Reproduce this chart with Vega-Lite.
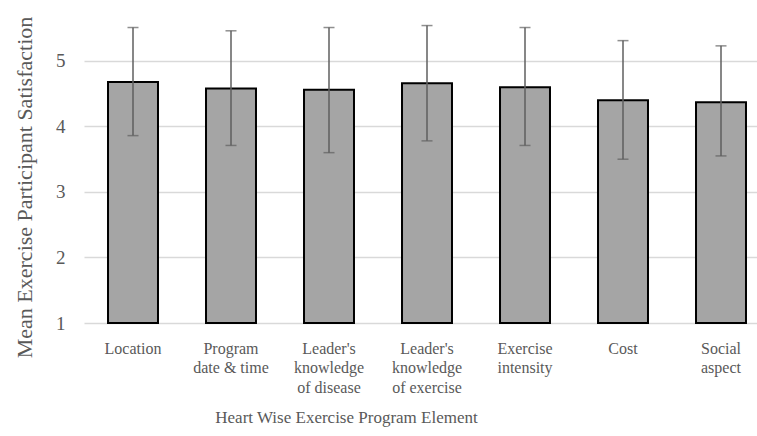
{
  "$schema": "https://vega.github.io/schema/vega-lite/v6.json",
  "autosize": "none",
  "width": 673,
  "height": 323,
  "padding": {"left": 84, "top": 0, "right": 0, "bottom": 113},
  "background": "white",
  "config": {
    "view": {"stroke": null},
    "font": "Liberation Serif",
    "axis": {"labelFont": "Liberation Serif", "titleFont": "Liberation Serif"}
  },
  "data": {
    "values": [
      {"element": "Location", "mean": 4.68, "lo": 3.86, "hi": 5.51},
      {"element": "Program|date & time", "mean": 4.58, "lo": 3.71, "hi": 5.46},
      {"element": "Leader's|knowledge|of disease", "mean": 4.56, "lo": 3.60, "hi": 5.51},
      {"element": "Leader's|knowledge|of exercise", "mean": 4.66, "lo": 3.78, "hi": 5.54},
      {"element": "Exercise|intensity", "mean": 4.60, "lo": 3.71, "hi": 5.51},
      {"element": "Cost", "mean": 4.40, "lo": 3.50, "hi": 5.31},
      {"element": "Social|aspect", "mean": 4.37, "lo": 3.55, "hi": 5.23}
    ]
  },
  "encoding": {
    "x": {
      "field": "element",
      "type": "nominal",
      "sort": null,
      "scale": {"range": [0, 686], "paddingInner": 0.49, "paddingOuter": 0.245},
      "axis": {
        "title": "Heart Wise Exercise  Program Element",
        "titleFontSize": 17,
        "titleFontWeight": "normal",
        "titleColor": "#595959",
        "titleX": 262,
        "titleY": 94,
        "titleBaseline": "middle",
        "labelExpr": "split(datum.label, '|')",
        "labelFontSize": 16,
        "labelColor": "#595959",
        "labelLineHeight": 19.5,
        "labelPadding": 17,
        "labelAngle": 0,
        "domain": false,
        "ticks": false,
        "grid": false
      }
    }
  },
  "layer": [
    {
      "mark": {"type": "bar", "fill": "#a5a5a5", "stroke": "#000000", "strokeWidth": 2},
      "encoding": {
        "y": {
          "field": "mean",
          "type": "quantitative",
          "scale": {"domain": [1, 5.93], "nice": false, "zero": false},
          "axis": {
            "title": "Mean Exercise  Participant Satisfaction",
            "titleFontSize": 22,
            "titleFontWeight": "normal",
            "titleColor": "#595959",
            "titleX": -53,
            "titleY": 187,
            "titleBaseline": "alphabetic",
            "titleAngle": -90,
            "values": [1, 2, 3, 4, 5],
            "format": "d",
            "labelFontSize": 19,
            "labelColor": "#595959",
            "labelPadding": 19,
            "domain": false,
            "ticks": false,
            "grid": true,
            "gridColor": "#d9d9d9",
            "gridWidth": 1.4
          }
        },
        "y2": {"datum": 1}
      }
    },
    {
      "mark": {"type": "rule", "color": "#5f5f5f", "strokeWidth": 1.5},
      "encoding": {
        "y": {"field": "lo", "type": "quantitative"},
        "y2": {"field": "hi"}
      }
    },
    {
      "mark": {"type": "tick", "color": "#5f5f5f", "thickness": 1.5, "size": 11},
      "encoding": {"y": {"field": "hi", "type": "quantitative"}}
    },
    {
      "mark": {"type": "tick", "color": "#5f5f5f", "thickness": 1.5, "size": 11},
      "encoding": {"y": {"field": "lo", "type": "quantitative"}}
    }
  ]
}
